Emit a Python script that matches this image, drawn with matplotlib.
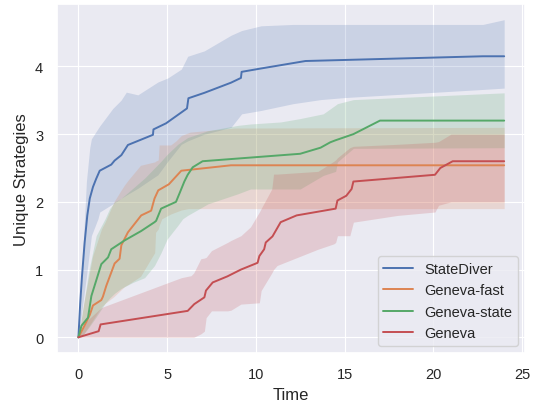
import numpy as np
import matplotlib
matplotlib.use('Agg')
import matplotlib.pyplot as plt
import seaborn as sns

# mean curves
blue_x = [0, 0.1, 0.2, 0.35, 0.5, 0.64, 0.82, 1.0, 1.2, 1.85, 2.04, 2.42, 2.79, 4.2, 4.23, 4.94,
          6.12, 6.2, 7.1, 8.6, 9.16, 9.2, 10.3, 12.8, 22.8, 24]
blue_y = [0, 0.5, 0.9, 1.4, 1.8, 2.05, 2.22, 2.34, 2.46, 2.55, 2.61, 2.69, 2.84, 2.99, 3.07, 3.16,
          3.38, 3.53, 3.61, 3.76, 3.83, 3.92, 3.97, 4.08, 4.15, 4.15]

orange_x = [0, 0.3, 0.64, 0.82, 1.29, 1.38, 1.57, 2.04, 2.32, 2.42, 2.79, 3.54, 4.1, 4.29, 4.5,
            5.1, 5.8, 8.6, 24]
orange_y = [0, 0.15, 0.33, 0.47, 0.55, 0.6, 0.76, 1.09, 1.16, 1.36, 1.55, 1.8, 1.87, 2.05, 2.17,
            2.26, 2.46, 2.54, 2.54]

green_x = [0, 0.17, 0.54, 0.73, 1.29, 1.67, 1.85, 2.6, 3.54, 4.29, 4.38, 4.66, 5.5, 5.69, 5.97,
           6.16, 6.44, 7.0, 12.5, 13.65, 14.2, 14.5, 15.5, 17.0, 24]
green_y = [0, 0.17, 0.29, 0.61, 1.08, 1.18, 1.3, 1.43, 1.57, 1.7, 1.72, 1.9, 2.0, 2.12, 2.3,
           2.4, 2.51, 2.6, 2.71, 2.8, 2.88, 2.91, 3.0, 3.2, 3.2]

red_x = [0, 1.14, 1.25, 6.16, 6.53, 7.1, 7.19, 7.57, 8.4, 9.16, 10.1, 10.2, 10.47, 10.56, 10.94,
         11.4, 12.3, 14.5, 14.6, 15.1, 15.4, 15.5, 20.1, 20.4, 21.1, 24]
red_y = [0, 0.09, 0.19, 0.39, 0.49, 0.59, 0.69, 0.81, 0.9, 1.0, 1.1, 1.2, 1.3, 1.4, 1.49,
         1.7, 1.8, 1.9, 2.02, 2.09, 2.19, 2.3, 2.4, 2.5, 2.6, 2.6]

# confidence bands
blue_bx = [0, 0.2, 0.45, 0.64, 0.73, 1.1, 1.2, 1.94, 2.4, 2.7, 3.35, 4.48, 5.04, 5.8, 6.16, 7.1,
           8.6, 9.2, 10.3, 12.1, 13.65, 15, 22.8, 24]
blue_hi = [0, 1.0, 2.3, 2.8, 2.93, 3.08, 3.12, 3.38, 3.5, 3.62, 3.58, 3.77, 3.83, 3.96, 4.15, 4.23,
           4.46, 4.53, 4.6, 4.62, 4.62, 4.62, 4.62, 4.69]
blue_lo = [0, 0.4, 0.9, 1.3, 1.5, 1.75, 1.85, 1.97, 2.05, 2.1, 2.2, 2.4, 2.6, 2.85, 2.9, 3.0,
           3.1, 3.3, 3.35, 3.45, 3.51, 3.54, 3.66, 3.68]

orange_bx = [0, 0.3, 0.8, 1.3, 1.5, 2.0, 2.4, 2.6, 2.8, 3.5, 4.3, 4.35, 4.5, 4.55, 4.7, 5.2, 5.5,
             5.8, 6.2, 6.3, 8.8, 24]
orange_hi = [0, 0.5, 1.2, 1.6, 1.7, 2.0, 2.17, 2.25, 2.32, 2.54, 2.59, 2.6, 2.62, 2.84, 2.84, 2.84,
             2.9, 2.98, 3.02, 3.03, 3.09, 3.1]
orange_lo = [0, 0.05, 0.25, 0.45, 0.5, 0.6, 0.7, 0.75, 0.78, 0.9, 1.25, 1.55, 1.6, 1.65, 1.75, 1.82,
             1.85, 1.88, 1.9, 1.9, 1.9, 1.9]

green_bx = [0, 0.3, 0.6, 1.0, 1.5, 1.76, 2.04, 2.4, 3.07, 3.73, 4.29, 4.66, 5.0, 5.6, 5.88, 6.16,
            7.3, 9.0, 9.7, 11.4, 12.5, 13.8, 14.5, 14.6, 15.5, 24]
green_hi = [0, 0.5, 1.0, 1.5, 1.75, 1.9, 2.0, 2.05, 2.2, 2.35, 2.5, 2.6, 2.7, 2.85, 2.9, 2.95,
            3.05, 3.13, 3.15, 3.18, 3.23, 3.3, 3.43, 3.45, 3.51, 3.61]
green_lo = [0, 0.05, 0.15, 0.3, 0.5, 0.58, 0.65, 0.72, 0.81, 0.88, 1.06, 1.25, 1.45, 1.65, 1.75, 1.8,
            1.97, 2.12, 2.19, 2.19, 2.19, 2.39, 2.45, 2.59, 2.79, 2.8]

red_bx = [0, 0.5, 1.3, 5.8, 6.35, 6.5, 6.9, 7.1, 7.2, 7.5, 8.4, 8.6, 9.16, 9.7, 10.2, 10.3, 10.9,
          11.0, 11.2, 13.5, 14.4, 14.5, 14.6, 15.3, 15.5, 18.0, 20.1, 20.3, 21.0, 24]
red_hi = [0, 0.25, 0.44, 0.88, 0.91, 0.95, 1.16, 1.17, 1.18, 1.28, 1.4, 1.43, 1.5, 1.63, 1.85, 1.9,
          2.19, 2.41, 2.41, 2.45, 2.6, 2.62, 2.65, 2.8, 2.82, 2.85, 2.88, 2.89, 3.0, 3.0]
red_lo = [0, 0, 0, 0, 0, 0, 0.05, 0.09, 0.29, 0.39, 0.39, 0.4, 0.49, 0.5, 0.51, 0.69, 0.95,
          1.0, 1.06, 1.3, 1.38, 1.4, 1.5, 1.5, 1.7, 1.8, 1.85, 1.95, 2.0, 2.0]

labels = ['StateDiver', 'Geneva-fast', 'Geneva-state', 'Geneva']

sns.set_theme(style='darkgrid')
plt.rcParams['font.family'] = ['Liberation Sans', 'DejaVu Sans']
plt.rcParams['grid.linewidth'] = 0.85
colors = sns.color_palette('deep')

fig = plt.figure(figsize=(5.34, 4.02), dpi=100)
ax = fig.add_axes([0.107, 0.119, 0.877, 0.869])

series = [
    (blue_x, blue_y, blue_bx, blue_lo, blue_hi),
    (orange_x, orange_y, orange_bx, orange_lo, orange_hi),
    (green_x, green_y, green_bx, green_lo, green_hi),
    (red_x, red_y, red_bx, red_lo, red_hi),
]
for i, (x, y, bx, lo, hi) in enumerate(series):
    ax.plot(x, y, color=colors[i], lw=1.4, label=labels[i])
    ax.fill_between(bx, lo, hi, color=colors[i], alpha=0.2, linewidth=0)

ax.set_xlabel('Time')
ax.set_ylabel('Unique Strategies')
ax.set_xticks([0, 5, 10, 15, 20, 25])
ax.tick_params(labelsize=10.5, pad=4)
ax.legend(loc='lower right', fontsize=10.5)

fig.savefig('out.png', dpi=100)
